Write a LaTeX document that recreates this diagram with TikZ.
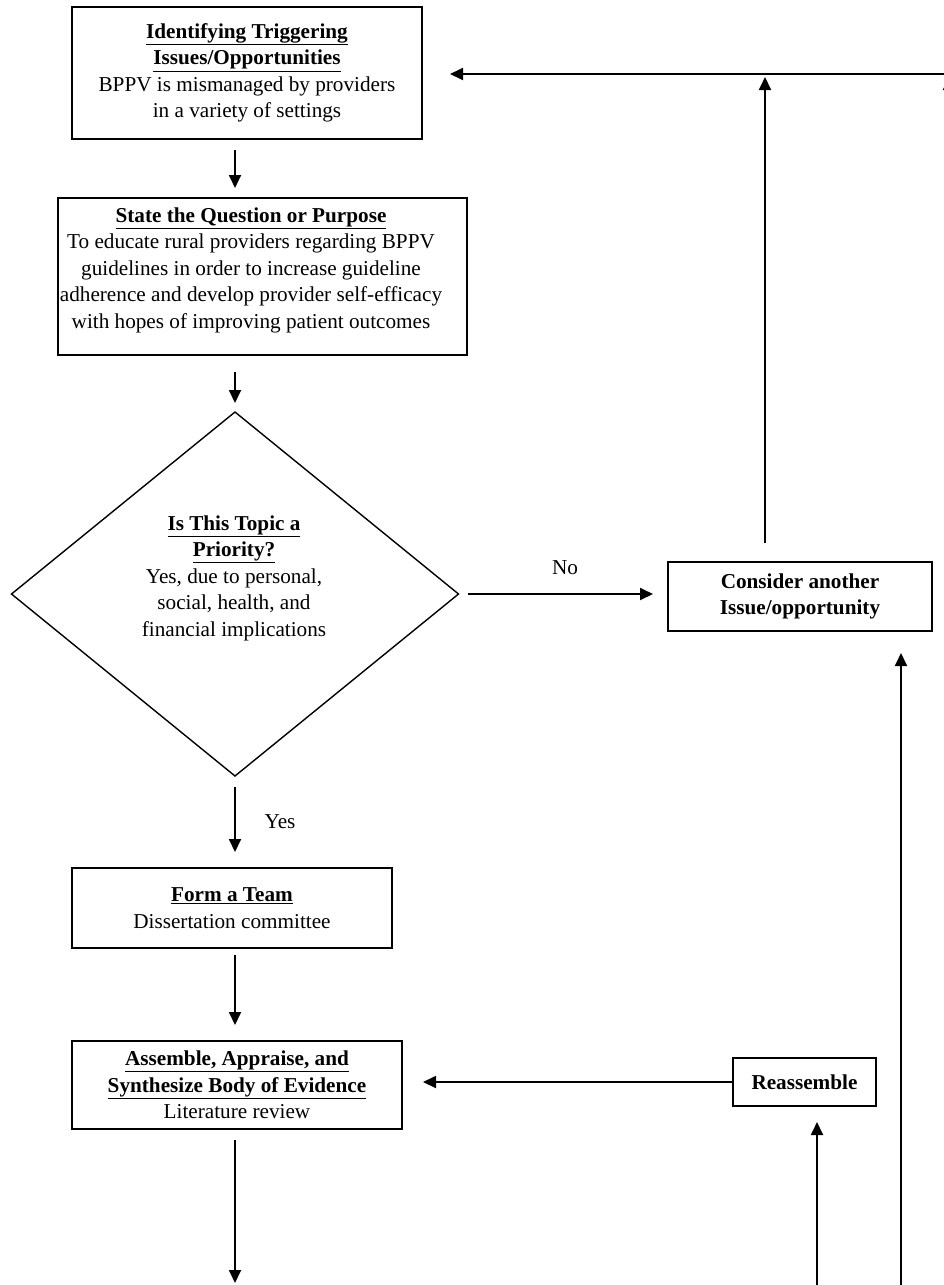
\documentclass[tikz,border=0pt]{standalone}
\usepackage{fontspec}
\setmainfont{Liberation Serif}
\usetikzlibrary{arrows.meta,shapes.geometric}
\tikzset{
  x=1pt, y=-1pt,
  every node/.style={font=\fontsize{21.2}{26.5}\selectfont, align=center, inner sep=0pt, outer sep=0pt},
  boxnode/.style={draw, line width=1.8pt, rectangle},
  arr/.style={line width=1.8pt, -{Triangle[length=13pt,width=12pt]}},
  plain/.style={line width=1.8pt}
}
\newcommand{\ttl}[1]{\underline{\textbf{#1}}}
\begin{document}
\begin{tikzpicture}
\useasboundingbox (0,0) rectangle (944,1285);
\clip (0,0) rectangle (944,1285);

% top box
\node[boxnode, minimum width=350, minimum height=132] (top) at (247,73)
  {\ttl{Identifying Triggering}\\ \ttl{Issues/Opportunities}\\ BPPV is mismanaged by providers\\ in a variety of settings};

% state the question box
\node[boxnode, minimum width=409, minimum height=157] (q) at (262.5,276.5) {};
\node (qt) at (251,270)
  {\ttl{State the Question or Purpose}\\ To educate rural providers regarding BPPV\\ guidelines in order to increase guideline\\ adherence and develop provider self-efficacy\\ with hopes of improving patient outcomes};

% diamond
\node[draw, line width=1.4pt, diamond, minimum width=447, minimum height=364, aspect=1.2] (dia) at (235,594) {};
\node (diat) at (234,578)
  {\ttl{Is This Topic a}\\ \ttl{Priority?}\\ Yes, due to personal,\\ social, health, and\\ financial implications};

% consider another
\node[boxnode, minimum width=264, minimum height=69] (cons) at (800,596.5)
  {\textbf{Consider another}\\ \textbf{Issue/opportunity}};

% form a team
\node[boxnode, minimum width=320, minimum height=80] (team) at (232,908)
  {\ttl{Form a Team}\\ Dissertation committee};

% assemble
\node[boxnode, minimum width=330, minimum height=88] (asm) at (237,1085)
  {\ttl{Assemble, Appraise, and}\\ \ttl{Synthesize Body of Evidence}\\ Literature review};

% reassemble
\node[boxnode, minimum width=143, minimum height=48] (re) at (804.5,1082)
  {\textbf{Reassemble}};

% labels
\node (no) at (565,568) {No};
\node (yes) at (280,822) {Yes};

% coordinates
\coordinate (ax) at (235,0);
\coordinate (topline) at (944,74);
\coordinate (edgeup) at (949,130);
\coordinate (bottomarrow) at (235,1283);
\coordinate (reb) at (817,1290);
\coordinate (consb) at (901,1290);

% vertical main arrows
\draw[arr, shorten <=11pt, shorten >=10pt] (top.south -| ax) -- (q.north -| ax);
\draw[arr, shorten <=17pt, shorten >=9pt] (q.south -| ax) -- (dia.north);
\draw[arr, shorten <=11pt, shorten >=16pt] (dia.south) -- (team.north -| ax);
\draw[arr, shorten <=7pt, shorten >=16pt] (team.south -| ax) -- (asm.north -| ax);
\draw[arr, shorten <=11pt] (asm.south -| ax) -- (bottomarrow);

% No arrow
\draw[arr, shorten <=9pt, shorten >=15pt] (dia.east) -- (dia.east -| cons.west);

% return to top
\draw[arr, shorten >=28pt] (topline) -- (topline -| top.east);
\draw[arr, shorten <=19pt, shorten >=3pt] (cons.north -| 765,0) -- (765,74);
\draw[arr, shorten >=3pt] (edgeup) -- (edgeup |- topline);

% reassemble arrows
\draw[arr, shorten >=21pt] (re.west) -- (asm.east |- re.west);
\draw[arr, shorten >=16pt] (reb) -- (reb |- re.south);
\draw[arr, shorten >=22pt] (consb) -- (consb |- cons.south);
\end{tikzpicture}
\end{document}
